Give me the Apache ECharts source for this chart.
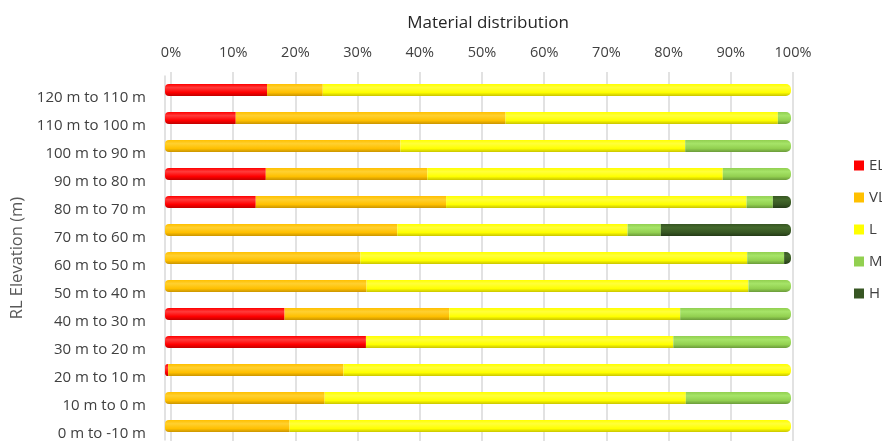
<!DOCTYPE html>
<html>
<head>
<meta charset="utf-8">
<script src="https://cdn.jsdelivr.net/npm/echarts@6/dist/echarts.min.js"></script>
<style>
  html, body { margin: 0; padding: 0; background: #fff; }
  #chart { width: 882px; height: 441px; }
</style>
</head>
<body>
<div id="chart"></div>
<script>
// Elevation bands, top of the column first
const bands = [
  '120 m to 110 m', '110 m to 100 m', '100 m to 90 m', '90 m to 80 m',
  '80 m to 70 m', '70 m to 60 m', '60 m to 50 m', '50 m to 40 m',
  '40 m to 30 m', '30 m to 20 m', '20 m to 10 m', '10 m to 0 m', '0 m to -10 m'
];

// Share of each material class per band (%)
const EL = [16.3, 11.3, 0, 16.1, 14.5, 0, 0, 0, 19.1, 32.1, 0.5, 0, 0];
const VL = [8.9, 43.1, 37.6, 25.8, 30.4, 37.1, 31.2, 32.2, 26.3, 0, 28.0, 25.5, 19.9];
const L  = [74.8, 43.5, 45.5, 47.2, 48.0, 36.8, 61.8, 61.0, 36.9, 49.1, 71.5, 57.7, 80.1];
const M  = [0, 2.1, 16.9, 10.9, 4.2, 5.3, 5.9, 6.8, 17.7, 18.8, 0, 16.8, 0];
const H  = [0, 0, 0, 0, 2.9, 20.8, 1.1, 0, 0, 0, 0, 0, 0];

const pctTicks = ['0%', '10%', '20%', '30%', '40%', '50%', '60%', '70%', '80%', '90%', '100%'];

const classes = [
  { name: 'EL', values: EL, base: '#FF0000', light: '#FF3b3b', dark: '#C00000' },
  { name: 'VL', values: VL, base: '#FFC000', light: '#FFD030', dark: '#C99400' },
  { name: 'L',  values: L,  base: '#FFFF00', light: '#FFFF3a', dark: '#C8C400' },
  { name: 'M',  values: M,  base: '#92D050', light: '#A6E468', dark: '#6A9A3A' },
  { name: 'H',  values: H,  base: '#375623', light: '#44692c', dark: '#243a17' }
];

// Cylinder-like shading: lighter band near the top, darker lower edge
function shade(c) {
  return new echarts.graphic.LinearGradient(0, 0, 0, 1, [
    { offset: 0, color: c.base },
    { offset: 0.3, color: c.light },
    { offset: 0.7, color: c.base },
    { offset: 1, color: c.dark }
  ]);
}

// Round the two outer ends of every stacked bar
const firstIdx = bands.map((_, i) => classes.findIndex(c => c.values[i] > 0));
const lastIdx = bands.map((_, i) => {
  let k = -1;
  classes.forEach((c, j) => { if (c.values[i] > 0) k = j; });
  return k;
});

const series = classes.map((c, j) => ({
  name: c.name,
  type: 'bar',
  stack: 'total',
  xAxisIndex: 1,
  yAxisIndex: 1,
  barWidth: 12,
  itemStyle: { color: shade(c) },
  data: c.values.map((v, i) => {
    const r = [0, 0, 0, 0];
    if (firstIdx[i] === j) { r[0] = 4; r[3] = 4; }
    if (lastIdx[i] === j) { r[1] = 5; r[2] = 5; }
    return { value: v, itemStyle: { borderRadius: r } };
  })
}));

const textColor = '#404040';
const font = 'Open Sans';

const chart = echarts.init(document.getElementById('chart'));
chart.setOption({
  animation: false,
  backgroundColor: '#ffffff',
  title: {
    text: 'Material distribution',
    left: 483,
    top: 10,
    textAlign: 'center',
    textStyle: { fontFamily: font, fontSize: 17, fontWeight: 'normal', color: '#262626' }
  },
  legend: {
    orient: 'vertical',
    left: 849,
    top: 153,
    itemWidth: 10,
    itemHeight: 10,
    itemGap: 17,
    icon: 'rect',
    textStyle: { fontFamily: font, fontSize: 15, color: textColor },
    data: classes.map(c => ({ name: c.name, itemStyle: { color: c.base } }))
  },
  grid: [
    // back wall: percentage labels and gridlines
    { left: 171, right: 89, top: 72, bottom: -10 },
    // bars
    { left: 165, right: 91, top: 76, bottom: -2 }
  ],
  xAxis: [
    {
      gridIndex: 0,
      type: 'value',
      position: 'top',
      min: 0,
      max: 100,
      interval: 10,
      axisLine: { show: false },
      axisTick: { show: false },
      splitLine: { show: true, lineStyle: { color: '#D9D9D9', width: 1.5 } },
      axisLabel: {
        margin: 12,
        fontFamily: font,
        fontSize: 14.5,
        color: textColor,
        formatter: v => pctTicks[Math.round(v / 10)]
      }
    },
    {
      gridIndex: 1,
      type: 'value',
      min: 0,
      max: 100,
      show: false
    }
  ],
  yAxis: [
    {
      gridIndex: 0,
      type: 'category',
      data: bands,
      inverse: true,
      show: false
    },
    {
      gridIndex: 1,
      type: 'category',
      data: bands,
      inverse: true,
      offset: 3,
      axisLine: { show: true, lineStyle: { color: '#D9D9D9', width: 1.5 } },
      axisTick: { show: false },
      axisLabel: {
        margin: 16,
        fontFamily: font,
        fontSize: 15,
        color: textColor,
        verticalAlign: 'top',
        lineHeight: 15
      },
      name: 'RL Elevation (m)',
      nameLocation: 'middle',
      nameGap: 127,
      nameTextStyle: { fontFamily: font, fontSize: 16.5, color: '#595959' }
    }
  ],
  series: series
});
</script>
</body>
</html>
